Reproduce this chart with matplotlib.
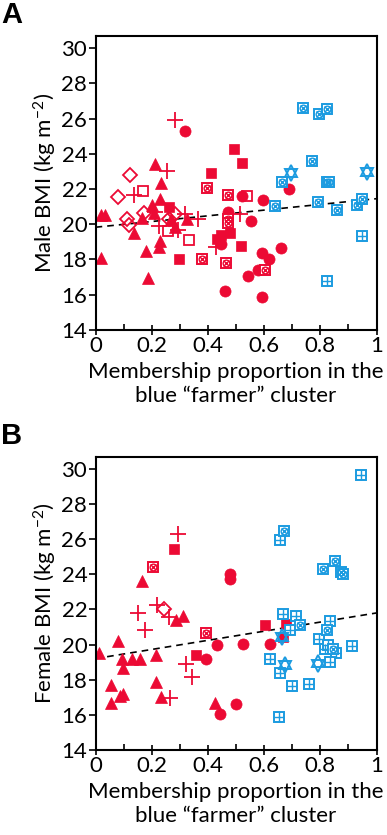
import numpy as np
import matplotlib
matplotlib.use('Agg')
import matplotlib.pyplot as plt
from matplotlib.ticker import MultipleLocator, FuncFormatter

plt.rcParams['font.family'] = ['Lato', 'DejaVu Sans']
plt.rcParams['mathtext.fontset'] = 'custom'
plt.rcParams['mathtext.rm'] = 'Lato'
plt.rcParams['mathtext.it'] = 'Lato:italic'

RED = '#EC0A34'
BLUE = '#1B9BE0'

# ---- male BMI (panel A) ----
male_triangle = [(0.021, 20.55), (0.033, 20.55), (0.021, 18.1), (0.213, 23.4), (0.232, 22.34),
                 (0.228, 21.44), (0.199, 21.12), (0.207, 20.63), (0.164, 20.37), (0.137, 19.5),
                 (0.179, 18.47), (0.185, 16.97), (0.229, 19.07), (0.225, 18.72), (0.269, 20.27),
                 (0.283, 19.86), (0.325, 20.29)]
male_square = [(0.492, 24.29), (0.52, 23.5), (0.409, 22.9), (0.261, 21.0), (0.298, 18.0),
               (0.448, 19.4), (0.478, 19.5), (0.433, 19.16), (0.519, 18.75)]
male_circle = [(0.317, 25.32), (0.46, 16.21), (0.448, 18.9), (0.472, 20.7), (0.52, 21.62),
               (0.597, 21.4), (0.689, 22.0), (0.552, 20.18), (0.659, 18.66), (0.592, 18.38),
               (0.618, 18.02), (0.578, 17.38), (0.541, 17.03), (0.592, 15.84)]
male_plus = [(0.283, 25.94), (0.253, 23.03), (0.137, 21.68), (0.21, 20.7), (0.226, 19.9),
             (0.295, 19.65), (0.319, 20.59), (0.363, 20.27), (0.428, 18.7), (0.514, 20.6)]
male_diamond = [(0.122, 22.79), (0.079, 21.57), (0.174, 20.63), (0.111, 20.31), (0.118, 19.93),
                (0.26, 20.27), (0.283, 20.6)]
male_open_square = [(0.167, 21.9), (0.259, 19.6), (0.333, 19.1), (0.54, 21.6)]
male_red_boxx = [(0.395, 22.04), (0.472, 21.68), (0.377, 18.0), (0.463, 17.8),
                 (0.472, 20.3), (0.472, 20.07), (0.603, 17.4)]
male_blue_boxx = [(0.739, 26.6), (0.796, 26.28), (0.822, 26.56), (0.77, 23.58), (0.665, 22.38),
                  (0.824, 22.38), (0.83, 22.38), (0.639, 21.03), (0.793, 21.27), (0.858, 20.78),
                  (0.929, 21.12), (0.948, 21.44)]
male_blue_grid = [(0.948, 19.31), (0.822, 16.8)]
male_blue_star = [(0.694, 22.9), (0.967, 22.97)]
male_fit = (19.83, 1.62)   # intercept, slope

# ---- female BMI (panel B) ----
female_triangle = [(0.011, 19.49), (0.078, 20.2), (0.055, 17.69), (0.055, 16.68), (0.093, 19.16),
                   (0.096, 18.64), (0.088, 17.08), (0.096, 17.18), (0.131, 19.16), (0.157, 19.16),
                   (0.164, 23.6), (0.214, 19.39), (0.214, 17.84), (0.234, 16.99), (0.285, 21.38),
                   (0.312, 21.63), (0.425, 16.65)]
female_square = [(0.278, 25.43), (0.356, 19.39), (0.604, 21.14), (0.677, 21.19), (0.667, 20.43)]
female_circle = [(0.48, 24.03), (0.48, 23.71), (0.431, 20.0), (0.392, 19.16), (0.444, 16.04),
                 (0.498, 16.59), (0.525, 20.02), (0.621, 20.02)]
female_plus = [(0.295, 26.28), (0.151, 21.82), (0.175, 20.81), (0.22, 22.25), (0.26, 21.57),
               (0.323, 18.88), (0.343, 18.13), (0.264, 16.97)]
female_diamond = [(0.242, 22.01)]
female_red_boxx = [(0.204, 24.41), (0.394, 20.66)]
female_blue_grid = [(0.946, 29.68), (0.655, 25.98), (0.667, 21.76), (0.713, 21.63), (0.691, 20.85),
                    (0.834, 21.34), (0.794, 20.34), (0.816, 19.77), (0.828, 19.96), (0.854, 19.52),
                    (0.914, 19.94), (0.834, 19.01), (0.621, 19.18), (0.655, 18.35), (0.7, 17.65),
                    (0.758, 17.73), (0.653, 15.85)]
female_blue_boxx = [(0.669, 26.45), (0.851, 24.75), (0.808, 24.3), (0.875, 24.12), (0.881, 24.03),
                    (0.727, 21.14), (0.825, 20.81), (0.845, 19.72)]
female_blue_star = [(0.665, 20.43), (0.673, 18.83), (0.79, 18.92)]
female_fit = (19.2, 2.6)


def xy(pts):
    a = np.array(pts)
    return a[:, 0], a[:, 1]


def filled(ax, pts, marker, size, color):
    x, y = xy(pts)
    ax.plot(x, y, ls='none', marker=marker, ms=size, mfc=color, mec=color, mew=0.5)


def line_marker(ax, pts, marker, size, color, lw=1.3):
    x, y = xy(pts)
    ax.plot(x, y, ls='none', marker=marker, ms=size, mfc='none', mec=color, mew=lw)


def boxx(ax, pts, color):
    # square with a circle and a cross inside
    x, y = xy(pts)
    ax.plot(x, y, ls='none', marker='s', ms=7, mfc='white', mec=color, mew=1.4)
    ax.plot(x, y, ls='none', marker='o', ms=4.8, mfc='none', mec=color, mew=1.0)
    ax.plot(x, y, ls='none', marker='x', ms=3.8, mec=color, mew=1.0)


def gridbox(ax, pts, color):
    x, y = xy(pts)
    ax.plot(x, y, ls='none', marker='s', ms=7, mfc='white', mec=color, mew=1.4)
    ax.plot(x, y, ls='none', marker='+', ms=6.5, mec=color, mew=1.0)


def star(ax, pts, color):
    x, y = xy(pts)
    ax.plot(x, y + 0.12, ls='none', marker='^', ms=8, mfc='none', mec=color, mew=1.4)
    ax.plot(x, y - 0.12, ls='none', marker='v', ms=8, mfc='none', mec=color, mew=1.4)


def style(ax, ylabel, letter):
    ax.set_xlim(0, 1)
    ax.set_ylim(14, 30.7)
    ax.xaxis.set_major_locator(MultipleLocator(0.2))
    ax.xaxis.set_minor_locator(MultipleLocator(0.1))
    ax.yaxis.set_major_locator(MultipleLocator(2))
    ax.xaxis.set_major_formatter(FuncFormatter(lambda v, p: '%g' % round(v, 1)))
    ax.tick_params(axis='x', which='major', direction='inout', length=7, width=1.2,
                   labelsize=16, pad=1)
    ax.tick_params(axis='x', which='minor', direction='in', length=4, width=1.2)
    ax.tick_params(axis='y', direction='out', length=5, width=1.2, labelsize=16, pad=1)
    for s in ax.spines.values():
        s.set_linewidth(1.5)
    ax.set_ylabel(ylabel, fontsize=16, labelpad=2)
    ax.set_xlabel('Membership proportion in the\nblue \u201cfarmer\u201d cluster',
                  fontsize=16, labelpad=4, linespacing=1.3)
    ax.text(-0.3, 1.07, letter, transform=ax.transAxes, fontsize=21, fontweight='bold',
            family='Liberation Sans', va='center', ha='center')


def fitline(ax, fit):
    xs = np.array([0.0, 1.0])
    ax.plot(xs, fit[0] + fit[1] * xs, ls=(0, (4, 3)), color='black', lw=1.2, zorder=1)


fig = plt.figure(figsize=(3.87, 8.35), dpi=100)
axA = fig.add_axes([0.247, 0.605, 0.726, 0.352])
axB = fig.add_axes([0.247, 0.102, 0.726, 0.351])

fitline(axA, male_fit)
filled(axA, male_triangle, '^', 8.5, RED)
filled(axA, male_square, 's', 7, RED)
filled(axA, male_circle, 'o', 8, RED)
line_marker(axA, male_plus, '+', 11, RED)
line_marker(axA, male_diamond, 'D', 7, RED)
line_marker(axA, male_open_square, 's', 7.5, RED)
boxx(axA, male_red_boxx, RED)
boxx(axA, male_blue_boxx, BLUE)
gridbox(axA, male_blue_grid, BLUE)
star(axA, male_blue_star, BLUE)
style(axA, 'Male BMI (kg m$^{-2}$)', 'A')

fitline(axB, female_fit)
filled(axB, female_triangle, '^', 8.5, RED)
filled(axB, female_square, 's', 7, RED)
filled(axB, female_circle, 'o', 8, RED)
line_marker(axB, female_plus, '+', 11, RED)
line_marker(axB, female_diamond, 'D', 7, RED)
boxx(axB, female_red_boxx, RED)
gridbox(axB, female_blue_grid, BLUE)
boxx(axB, female_blue_boxx, BLUE)
star(axB, female_blue_star, BLUE)
style(axB, 'Female BMI (kg m$^{-2}$)', 'B')

fig.savefig('out.png', dpi=100)
